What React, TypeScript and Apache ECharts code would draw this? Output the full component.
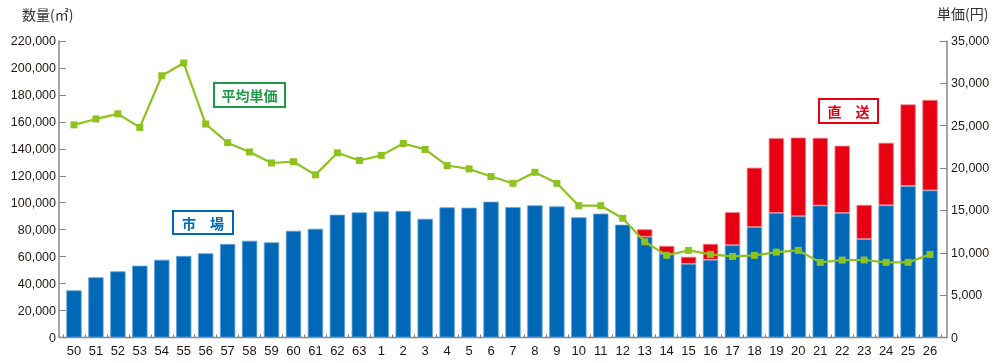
import React, { useEffect, useRef } from "react";
import * as echarts from "echarts";

const categories = ["50","51","52","53","54","55","56","57","58","59","60","61","62","63","1","2","3","4","5","6","7","8","9","10","11","12","13","14","15","16","17","18","19","20","21","22","23","24","25","26"];
const marketVolume = [35000,44700,49100,53300,57700,60500,62500,69400,71800,70600,79200,80700,91100,92900,93600,93900,88100,96600,96300,100800,96800,98100,97300,89200,91900,83700,74800,62000,54700,57700,68500,81900,92400,90000,97900,92400,73000,98100,112400,109200];
const directVolume = [null,null,null,null,null,null,null,null,null,null,null,null,null,null,null,null,null,null,null,null,null,null,null,null,null,null,5500,6000,5200,11800,24500,44100,55500,58400,50300,49900,25400,46400,60600,67100];
const avgPrice = [25100,25800,26400,24800,30900,32400,25200,23000,21900,20600,20750,19200,21800,20900,21500,22900,22200,20300,19900,19000,18200,19500,18200,15560,15560,14070,11300,9700,10280,9810,9570,9690,10080,10280,8870,9140,9150,8870,8870,9810];
const leftTicks = { min: 0, max: 220000, interval: 20000 };
const rightTicks = { min: 0, max: 35000, interval: 5000 };

const tickFont = "'Liberation Sans', Arial, sans-serif";
const jpFont = "'Noto Sans CJK JP', sans-serif";

function labelBox(x: number, y: number, w: number, h: number, text: string, color: string) {
  return {
    type: "group",
    left: x,
    top: y,
    children: [
      { type: "rect", shape: { x: 0, y: 0, width: w, height: h }, style: { fill: "#fff", stroke: color, lineWidth: 2 } },
      { type: "text", x: w / 2, y: h / 2, style: { text, fill: color, font: `bold 14px ${jpFont}`, align: "center", verticalAlign: "middle" } },
    ],
  };
}

export default function App() {
  const ref = useRef<HTMLDivElement>(null);
  useEffect(() => {
    if (!ref.current) return;
    const chart = echarts.init(ref.current, null, { renderer: "svg" });
    chart.setOption({
      animation: false,
      grid: { left: 63, right: 59, top: 41, bottom: 25.5 },
      xAxis: {
        type: "category",
        data: categories,
        axisLine: { show: false },
        axisTick: { show: true, inside: true, length: 3, lineStyle: { color: "#777" } },
        axisLabel: { color: "#231815", fontSize: 13, fontFamily: tickFont, margin: 6, interval: 0 },
      },
      yAxis: [
        {
          type: "value",
          ...leftTicks,
          offset: 4,
          axisLine: { show: true, lineStyle: { color: "#888", width: 1.5 } },
          axisTick: { show: true, inside: true, length: 7, lineStyle: { color: "#888" } },
          splitLine: { show: false },
          axisLabel: {
            color: "#231815", fontSize: 12.5, fontFamily: tickFont, margin: 3,
            formatter: (v: number) => v.toLocaleString("en-US"),
          },
        },
        {
          type: "value",
          ...rightTicks,
          offset: 6,
          position: "right",
          axisLine: { show: true, lineStyle: { color: "#888", width: 1.5 } },
          axisTick: { show: true, inside: true, length: 7, lineStyle: { color: "#888" } },
          splitLine: { show: false },
          axisLabel: {
            color: "#231815", fontSize: 12.5, fontFamily: tickFont, margin: 4,
            formatter: (v: number) => v.toLocaleString("en-US"),
          },
        },
      ],
      series: [
        {
          name: "市場",
          type: "bar",
          stack: "vol",
          data: marketVolume,
          barWidth: "70%",
          itemStyle: { color: "#0068b7", borderColor: "#6aa6d8", borderWidth: 0.8 },
        },
        {
          name: "直送",
          type: "bar",
          stack: "vol",
          data: directVolume,
          barWidth: "70%",
          itemStyle: { color: "#e60012", borderColor: "#f08a90", borderWidth: 0.8 },
        },
        {
          name: "平均単価",
          type: "line",
          yAxisIndex: 1,
          data: avgPrice,
          symbol: "rect",
          symbolSize: 7,
          lineStyle: { color: "#8dc21f", width: 2.2 },
          itemStyle: { color: "#8dc21f" },
          z: 5,
        },
      ],
      graphic: [
        { type: "line", shape: { x1: 59, y1: 337.5, x2: 947, y2: 337.5 }, style: { stroke: "#888", lineWidth: 1.5 } },
        { type: "text", left: 22, top: 7, style: { text: "数量(㎡)", fill: "#333", font: `14px ${jpFont}` } },
        { type: "text", left: 937, top: 6, style: { text: "単価(円)", fill: "#333", font: `14px ${jpFont}` } },
        labelBox(172, 210, 60, 23, "市　場", "#0068b7"),
        labelBox(213, 82, 71, 24, "平均単価", "#1e9b48"),
        labelBox(818, 98, 59, 24, "直　送", "#e60012"),
      ],
    });
    return () => chart.dispose();
  }, []);
  return <div ref={ref} style={{ position: "fixed", left: 0, top: 0, width: 1000, height: 363 }} />;
}
